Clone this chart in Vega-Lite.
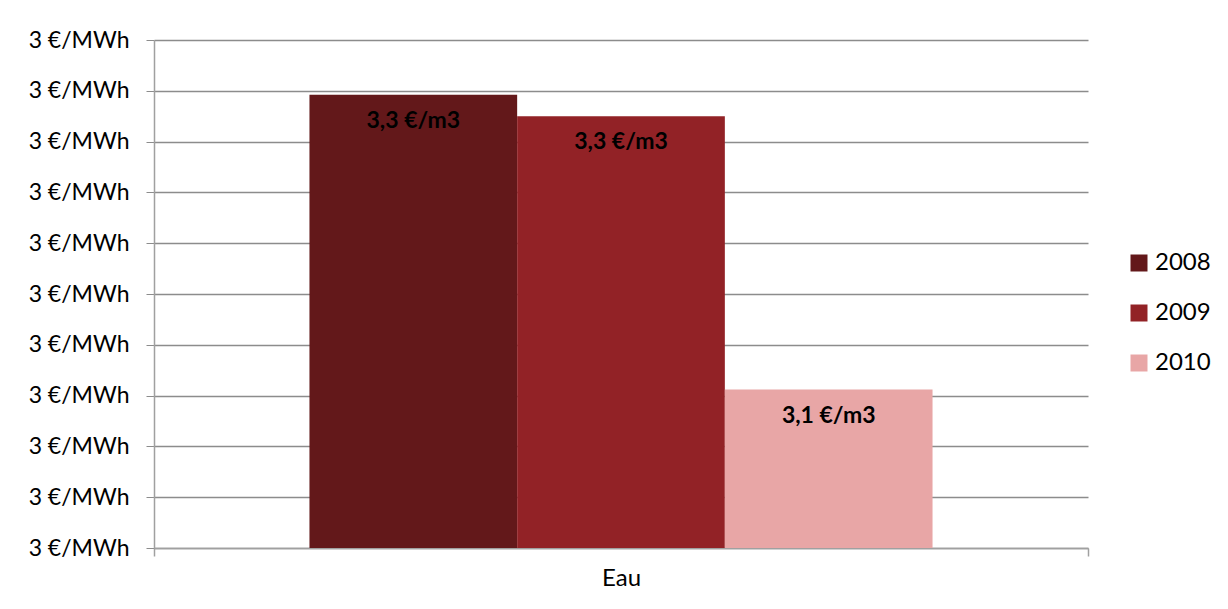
{
  "$schema": "https://vega.github.io/schema/vega-lite/v6.json",
  "autosize": {"type": "none"},
  "width": 934,
  "height": 508,
  "padding": {"left": 154, "top": 40, "right": 140, "bottom": 61},
  "background": "white",
  "data": {
    "values": [
      {"cat": "Eau", "year": "2008", "value": 3.346, "label": "3,3 €/m3"},
      {"cat": "Eau", "year": "2009", "value": 3.325, "label": "3,3 €/m3"},
      {"cat": "Eau", "year": "2010", "value": 3.056, "label": "3,1 €/m3"}
    ]
  },
  "encoding": {
    "x": {
      "field": "cat",
      "type": "nominal",
      "title": null,
      "scale": {"paddingInner": 0, "paddingOuter": 0},
      "axis": {
        "labelAngle": 0,
        "tickBand": "extent",
        "tickSize": 8,
        "labelPadding": 10,
        "labelFontSize": 24,
        "labelColor": "#000000",
        "domainColor": "#a0a0a0",
        "tickColor": "#a0a0a0",
        "domainWidth": 1.5,
        "tickWidth": 1.5
      }
    },
    "xOffset": {
      "field": "year",
      "type": "nominal",
      "scale": {"paddingInner": 0, "paddingOuter": 0.7485}
    },
    "y": {
      "field": "value",
      "type": "quantitative",
      "title": null,
      "scale": {"domain": [2.9, 3.4], "nice": false, "zero": false},
      "axis": {
        "values": [2.9, 2.95, 3.0, 3.05, 3.1, 3.15, 3.2, 3.25, 3.3, 3.35, 3.4],
        "labelExpr": "format(datum.value, '.0f') + ' €/MWh'",
        "tickSize": 8,
        "labelPadding": 17,
        "labelFontSize": 23,
        "labelColor": "#000000",
        "domainColor": "#a0a0a0",
        "tickColor": "#8c8c8c",
        "domainWidth": 1.5,
        "grid": true,
        "gridColor": "#8c8c8c",
        "gridWidth": 1.3
      }
    }
  },
  "layer": [
    {
      "mark": {"type": "bar", "stroke": null},
      "encoding": {
        "y2": {"datum": 2.9},
        "color": {
          "field": "year",
          "type": "nominal",
          "scale": {"domain": ["2008", "2009", "2010"], "range": ["#63181a", "#922226", "#e8a6a6"]},
          "legend": {
            "title": null,
            "orient": "none",
            "legendX": 973,
            "legendY": 211,
            "symbolType": "square",
            "symbolSize": 289,
            "symbolStrokeWidth": 0,
            "labelFontSize": 24,
            "labelColor": "#000000",
            "labelOffset": 4,
            "rowPadding": 26,
            "labelFont": "Lato"
          }
        }
      }
    },
    {
      "mark": {"type": "text", "dy": 26, "baseline": "middle", "align": "center", "fontWeight": "bold", "fontSize": 23, "color": "#000000"},
      "encoding": {
        "text": {"field": "label"}
      }
    }
  ],
  "config": {
    "font": "Lato",
    "view": {"stroke": null},
    "axis": {"labelFont": "Lato"}
  }
}
